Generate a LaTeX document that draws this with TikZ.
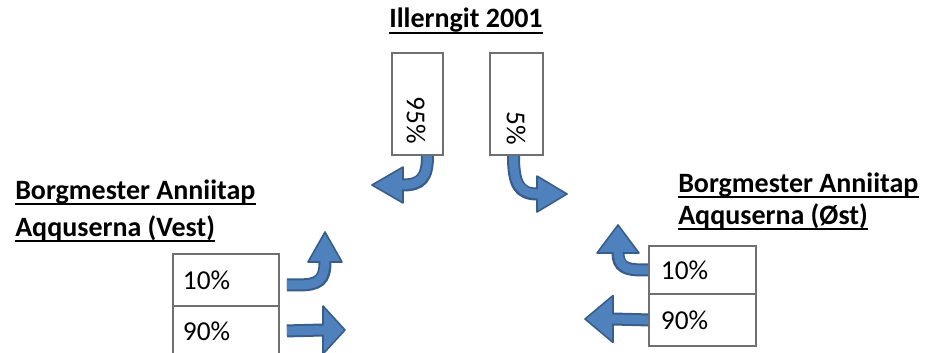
\documentclass[tikz,border=0pt]{standalone}
\usepackage{fontspec}
\setmainfont{Carlito}
\usetikzlibrary{calc}
\definecolor{afill}{HTML}{4F81BD}
\definecolor{aline}{HTML}{385D8A}
\definecolor{boxline}{HTML}{707070}
\begin{document}
\begin{tikzpicture}[x=0.75pt,y=-0.75pt,
  font=\fontsize{20.5}{24}\selectfont,
  ttl/.style={font=\fontsize{21}{25}\selectfont\bfseries, inner sep=0pt},
  uline/.style={draw=black, line width=1.7pt},
  pbox/.style={draw=boxline, line width=1.4pt, fill=white, inner sep=0pt},
  rowbox/.style={pbox, anchor=north west, align=left, inner ysep=0pt},
  vtext/.style={rotate=-90, inner sep=0pt},
  stemout/.style={draw=aline, line width=9.75pt},
  stemin/.style={draw=afill, line width=6.75pt, shorten >=-2.5pt},
  bluehead/.style={fill=afill, draw=aline, line width=1.2pt, line join=round}]
\useasboundingbox (0,0) rectangle (938,353);

% titles
\node[ttl, anchor=base] (title) at (466,28) {Illerngit 2001};
\node[ttl, anchor=base west] (w1) at (15,199) {Borgmester Anniitap\ };
\node[ttl, anchor=base west] (w2) at (15,236) {Aqquserna (Vest)};
\node[ttl, anchor=base west] (e1) at (678,192) {Borgmester Anniitap\ };
\node[ttl, anchor=base west] (e2) at (678,224) {Aqquserna (Øst)};
\foreach \n in {title,w1,w2,e1,e2}
  \draw[uline] ([yshift=-3.8pt]\n.base west) -- ([yshift=-3.8pt]\n.base east);

% top boxes
\node[pbox, minimum width=38.25pt, minimum height=76.5pt] (b95) at (417.5,104) {};
\node[vtext] (t95) at (416,120) {95\%};
\node[pbox, minimum width=39.75pt, minimum height=76.5pt] (b5) at (516.5,104) {};
\node[vtext] (t5) at (516,128) {5\%};

% left boxes
\node[rowbox, text width=64.5pt, inner xsep=7.5pt, minimum height=39pt] (b10L) at (172,253) {10\%};
\node[rowbox, text width=64.5pt, inner xsep=7.5pt, minimum height=37.5pt] (b90L) at (172,305) {90\%};
% right boxes
\node[rowbox, text width=62.25pt, inner xsep=9pt, minimum height=36pt] (b10R) at (648,245) {10\%};
\node[rowbox, text width=62.25pt, inner xsep=9pt, minimum height=39pt] (b90R) at (648,293) {90\%};

% arrow coordinates
\coordinate (h95) at (403,185); \coordinate (p95) at (372,185);
\coordinate (h5) at (537,194);  \coordinate (p5) at (567,194);
\coordinate (h10L) at (325,262); \coordinate (p10L) at (325,232);
\coordinate (h90L) at (323,330); \coordinate (p90L) at (345,330);
\coordinate (h10R) at (618,253); \coordinate (p10R) at (618,225);
\coordinate (h90R) at (613,319); \coordinate (p90R) at (585,319);

% 95% arrow
\draw[stemout] ([xshift=7.5pt]b95.south) .. controls +(0,22) and +(18,0) .. (h95);
\filldraw[bluehead] (p95) -- ($(h95)!13.5pt!90:(p95)$) -- ($(h95)!13.5pt!-90:(p95)$) -- cycle;
\draw[stemin] ([xshift=7.5pt]b95.south) .. controls +(0,22) and +(18,0) .. (h95);

% 5% arrow
\draw[stemout] ([xshift=-2.25pt]b5.south) .. controls +(0,28) and +(-18,0) .. (h5);
\filldraw[bluehead] (p5) -- ($(h5)!13.5pt!90:(p5)$) -- ($(h5)!13.5pt!-90:(p5)$) -- cycle;
\draw[stemin] ([xshift=-2.25pt]b5.south) .. controls +(0,28) and +(-18,0) .. (h5);

% left 10% arrow
\draw[stemout] ([shift={(5.25pt,-3.75pt)}]b10L.east) -- ++(12,0) .. controls +(20,0) and +(0,18) .. (h10L);
\filldraw[bluehead] (p10L) -- ($(h10L)!12.75pt!90:(p10L)$) -- ($(h10L)!12.75pt!-90:(p10L)$) -- cycle;
\draw[stemin] ([shift={(5.25pt,-3.75pt)}]b10L.east) -- ++(12,0) .. controls +(20,0) and +(0,18) .. (h10L);

% left 90% arrow
\draw[stemout] ([xshift=5.25pt]b90L.east) -- (h90L);
\filldraw[bluehead] (p90L) -- ($(h90L)!18pt!90:(p90L)$) -- ($(h90L)!18pt!-90:(p90L)$) -- cycle;
\draw[stemin] ([xshift=5.25pt]b90L.east) -- (h90L);

% right 10% arrow
\draw[stemout] (b10R.west) -- ++(-6,0) .. controls +(-16,0) and +(0,14) .. (h10R);
\filldraw[bluehead] (p10R) -- ($(h10R)!15.75pt!90:(p10R)$) -- ($(h10R)!15.75pt!-90:(p10R)$) -- cycle;
\draw[stemin] (b10R.west) -- ++(-6,0) .. controls +(-16,0) and +(0,14) .. (h10R);

% right 90% arrow
\draw[stemout] (b90R.west) -- (h90R);
\filldraw[bluehead] (p90R) -- ($(h90R)!17.6pt!90:(p90R)$) -- ($(h90R)!17.6pt!-90:(p90R)$) -- cycle;
\draw[stemin] (b90R.west) -- (h90R);
\end{tikzpicture}
\end{document}
